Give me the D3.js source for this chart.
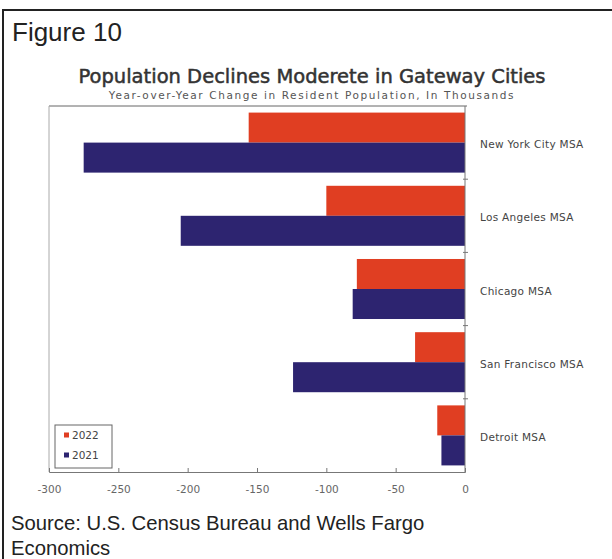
<!DOCTYPE html>
<html>
<head>
<meta charset="utf-8">
<script src="https://cdn.jsdelivr.net/npm/d3@7"></script>
<style>
  body { margin: 0; background: #fff; }
  svg { display: block; }
</style>
</head>
<body>
<svg id="chart" width="612" height="559"></svg>
<script>
// categories and values (thousands)
const cities = ['New York City MSA', 'Los Angeles MSA', 'Chicago MSA', 'San Francisco MSA', 'Detroit MSA']
const series = ['2022', '2021']
const values2022 = [-156, -100, -78, -36, -20]
const values2021 = [-275, -205, -81, -124, -17]
const xTicks = [-300, -250, -200, -150, -100, -50, 0]

const colors = { '2022': '#e03e22', '2021': '#2d2470' }

const svg = d3.select('#chart')

// outer frame
svg.append('line').attr('x1', 3).attr('x2', 3).attr('y1', 9).attr('y2', 559)
	.attr('stroke', '#222').attr('stroke-width', 2)
svg.append('line').attr('x1', 2).attr('x2', 612).attr('y1', 10).attr('y2', 10)
	.attr('stroke', '#222').attr('stroke-width', 2)

svg.append('text').attr('x', 12).attr('y', 41)
	.attr('font-family', 'Liberation Sans, Arial').attr('font-size', 26).attr('fill', '#222')
	.text('Figure 10')

svg.append('text').attr('x', 312).attr('y', 83).attr('text-anchor', 'middle')
	.attr('font-family', 'DejaVu Sans').attr('font-size', 19.5).attr('fill', '#333')
	.attr('stroke', '#333').attr('stroke-width', 0.5)
	.text('Population Declines Moderete in Gateway Cities')
svg.append('text').attr('x', 312).attr('y', 99).attr('text-anchor', 'middle')
	.attr('font-family', 'DejaVu Sans').attr('font-size', 10.5).attr('letter-spacing', 1.6).attr('fill', '#555')
	.text('Year-over-Year Change in Resident Population, In Thousands')

const plot = { left: 49, right: 465, top: 106, bottom: 472 }

const x = d3.scaleLinear().domain([-300, 0]).range([plot.left, plot.right])
const y = d3.scaleBand().domain(cities).range([plot.top, plot.bottom]).paddingInner(0.18).paddingOuter(0.09)
const ySub = d3.scaleBand().domain(series).range([0, y.bandwidth()])

// plot frame
svg.append('line').attr('x1', plot.left).attr('x2', plot.right + 2).attr('y1', plot.top).attr('y2', plot.top)
	.attr('stroke', '#666')
svg.append('line').attr('x1', plot.left).attr('x2', plot.left).attr('y1', plot.top).attr('y2', plot.bottom)
	.attr('stroke', '#aaa')

const rows = svg.append('g').selectAll('g').data(cities).join('g')
	.attr('transform', d => `translate(0,${y(d)})`)

rows.selectAll('rect')
	.data((d, i) => [
		{ s: '2022', v: values2022[i] },
		{ s: '2021', v: values2021[i] }
	])
	.join('rect')
	.attr('x', d => x(d.v))
	.attr('width', d => x(0) - x(d.v))
	.attr('y', d => ySub(d.s))
	.attr('height', ySub.bandwidth())
	.attr('fill', d => colors[d.s])

// x axis
const xAxis = svg.append('g').attr('transform', `translate(0,${plot.bottom})`)
	.call(d3.axisBottom(x).tickValues(xTicks).tickSize(-4).tickPadding(14).tickFormat(d => String(d)))
xAxis.select('.domain').attr('stroke', '#777')
xAxis.selectAll('.tick line').attr('stroke', '#777')
xAxis.selectAll('text').attr('font-family', 'DejaVu Sans').attr('font-size', 10.5).attr('fill', '#666')

// y axis at zero (right side)
const yTickPos = cities.slice(1).map(c => y(c) - y.step() * y.paddingInner() / 2)
svg.append('line').attr('x1', x(0)).attr('x2', x(0)).attr('y1', plot.top).attr('y2', plot.bottom)
	.attr('stroke', '#777')
svg.append('g').selectAll('line').data(yTickPos).join('line')
	.attr('x1', x(0) - 2).attr('x2', x(0) + 3).attr('y1', d => d).attr('y2', d => d)
	.attr('stroke', '#777')

svg.append('g').selectAll('text').data(cities).join('text')
	.attr('x', 480).attr('y', d => y(d) + y.bandwidth() / 2 + 2)
	.attr('dy', '0.35em')
	.attr('font-family', 'DejaVu Sans').attr('font-size', 10.5).attr('letter-spacing', 0.3).attr('fill', '#444')
	.text(d => d)

// legend
const legend = svg.append('g').attr('transform', 'translate(55,425)')
legend.append('rect').attr('width', 57).attr('height', 43)
	.attr('fill', '#fff').attr('stroke', '#666')
legend.selectAll('g').data(series).join('g')
	.attr('transform', (d, i) => `translate(9,${10 + i * 20})`)
	.each(function (d) {
		const g = d3.select(this)
		g.append('rect').attr('width', 5).attr('height', 5).attr('y', -2.5).attr('fill', colors[d])
		g.append('text').attr('x', 8).attr('dy', '0.35em')
			.attr('font-family', 'DejaVu Sans').attr('font-size', 10.5).attr('fill', '#444')
			.text(d)
	})

svg.append('text').attr('x', 11).attr('y', 530)
	.attr('font-family', 'Liberation Sans, Arial').attr('font-size', 20.3).attr('fill', '#222')
	.text('Source: U.S. Census Bureau and Wells Fargo')
svg.append('text').attr('x', 11).attr('y', 555)
	.attr('font-family', 'Liberation Sans, Arial').attr('font-size', 20.3).attr('fill', '#222')
	.text('Economics')
</script>
</body>
</html>
